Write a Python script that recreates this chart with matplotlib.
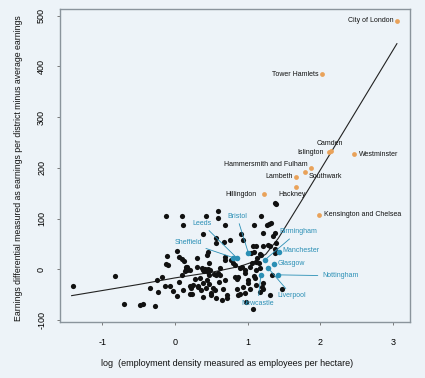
import matplotlib
matplotlib.use("Agg")
import matplotlib.pyplot as plt

plt.rcParams['font.family'] = ['Liberation Sans', 'DejaVu Sans']

# ---- data ----
other_x = [-1.40, -0.83, -0.70, -0.48, -0.44, -0.27, -0.35, -0.25, -0.18, -0.24, -0.14, -0.07, -0.03,
           -0.13, 0.03, -0.11, -0.12, -0.10, 0.06, 0.06, 0.10, 0.11, 0.10, 0.12, 0.15, 0.14, 0.16,
           0.22, 0.28, 0.31, 0.24, 0.30, 0.38, 0.43, 0.39, 0.44, 0.46, 0.47, 0.46, 0.50, 0.49, 0.44,
           0.47, 0.41, 0.21, 0.30, 0.37, 0.39, 0.40, 0.09, 0.25, 0.11, 0.03,
           0.59, 0.59, 0.69, 0.67, 0.75, 0.56, 0.69, 0.77, 0.62, 0.54, 0.62, 0.69, 0.39, 0.42, 0.52,
           0.55, 0.66, 0.57, 0.64, 0.71, 0.72, 0.80, 0.83, 0.83, 0.85, 0.90, 0.96, 1.03, 1.06, 1.11,
           1.15, 1.12, 1.17, 1.08, 0.89, 0.85, 0.94, 1.01, 1.17, 1.21, 1.12, 0.98, 1.07, 1.47, 1.31,
           1.37, 1.39, 1.18, 1.26, 1.29, 1.32, 1.09, 1.21, 1.37, 1.35, 0.91, 0.93, 1.07, 1.11, 1.21,
           1.28, 1.31, 1.39, 1.37, 1.05, 1.08, 1.17, 1.38, 1.13, 1.18, 1.34, 0.56, 0.15, 0.16, 0.20,
           0.46, 0.48, 0.69, 0.92, 0.96, 0.87, 1.01, 1.10, 1.21, 1.03, 0.87, 0.96, 1.19, 0.57, 0.59,
           0.34, 0.47, 0.60, 0.32, 0.36, 0.21]
other_y = [-32, -14, -68, -70, -68, -73, -36, -21, -16, -44, -33, -32, -42,
           106, 37, 26, 11, 8, 25, -25, 106, 87, 20, 17, 1, -3, 5,
           -36, -19, -33, -49, 5, 70, 106, -54, 28, 34, 12, 1, -46, -51, -21,
           -11, 0, -32, 22, 2, -1, -3, -11, -31, -41, -52,
           114, 101, 88, 54, 58, 51, 24, 18, 2, -9, -11, -21, -28, -36, -36,
           -41, -38, -57, -61, -51, -56, 12, 8, -15, -20, 2, -1, 5, 12, 15,
           12, -1, 2, -13, -49, -39, -34, -28, -44, -39, -31, -64, -79, -38, -51,
           131, 128, 106, 87, 89, 92, 87, 71, 71, 66, 69, 58, 46, 45, 45,
           47, 45, 51, 32, 32, 34, 30, 40, 22, 28, -11, 61, 5, -1, -1,
           -5, -1, 18, 5, -8, -15, -21, -18, -28, -38, -51, -47, -34, -11, -8,
           -17, -30, -25, -35, -41, -49]

london_names = ["City of London", "Tower Hamlets", "Camden", "Islington", "Westminster",
                "Hammersmith and Fulham", "Southwark", "Lambeth", "Hackney", "Hillingdon",
                "Kensington and Chelsea"]
london_x = [3.05, 2.02, 2.14, 2.12, 2.46, 1.865, 1.79, 1.67, 1.66, 1.22, 1.975]
london_y = [490, 385, 233, 231, 227, 200, 192, 183, 162, 148, 108]
# label anchors (data units) and alignment
london_lx = [3.00, 1.97, 2.135, 2.045, 2.53, 1.825, 1.84, 1.62, 1.61, 1.127, 2.05]
london_ly = [490, 385, 249, 230, 227, 207, 183, 183, 148, 148, 108]
london_ha = ['right', 'right', 'center', 'right', 'left', 'right', 'left', 'right', 'center', 'right', 'left']

city_names = ["Leeds", "Sheffield", "Bristol", "Birmingham", "Manchester", "Glasgow",
              "Nottingham", "Liverpool", "Newcastle"]
city_x = [0.855, 0.80, 1.01, 1.24, 1.425, 1.36, 1.415, 1.28, 1.18]
city_y = [21.7, 23, 31.5, 19, 33.5, 10.5, -11, 2.5, -11]
city_lx = [0.367, 0.18, 0.85, 1.69, 1.73, 1.60, 2.27, 1.61, 1.14]
city_ly = [90.7, 53, 105, 74, 38, 10.5, -13, -52.5, -67]

fit_x = [-1.42, -0.5, 0.0, 0.5, 0.9, 1.1, 1.25, 1.42, 1.79, 2.29, 3.05]
fit_y = [-52, -30, -17, -6, 6, 16, 30, 61, 147, 265, 445]

xticks = [-1, 0, 1, 2, 3]
yticks = [-100, 0, 100, 200, 300, 400, 500]

# ---- figure ----
bg = '#EDF3F8'
orange = '#E9A25A'
teal = '#2A8FB5'
W, H = 425, 378
fig = plt.figure(figsize=(W / 100, H / 100), dpi=100, facecolor=bg)
ax = fig.add_axes([60 / W, 1 - 321.7 / H, 350 / W, 313 / H], facecolor=bg)

ax.plot(fit_x, fit_y, color='#222222', lw=0.8, zorder=2)
ax.scatter(other_x, other_y, s=14, color='#111111', zorder=3, linewidths=0)
ax.scatter(london_x, london_y, s=12, color=orange, zorder=3, linewidths=0)
ax.scatter(city_x, city_y, s=16, color=teal, zorder=4, linewidths=0)

for n, lx, ly, ha in zip(london_names, london_lx, london_ly, london_ha):
    ax.text(lx, ly, n, fontsize=5, ha=ha, va='center', color='#111111', zorder=5)

for n, x, y, lx, ly in zip(city_names, city_x, city_y, city_lx, city_ly):
    ax.annotate(n, xy=(x, y), xytext=(lx, ly), fontsize=5, color=teal,
                ha='center', va='center', zorder=5,
                arrowprops=dict(arrowstyle='-', color=teal, lw=0.6,
                                shrinkA=1, shrinkB=1))

ax.set_xlim(-1.58, 3.23)
ax.set_ylim(-103.4, 514)
ax.set_xticks(xticks)
ax.set_yticks(yticks)
ax.set_xticklabels([str(t) for t in xticks], fontsize=6.5)
ax.set_yticklabels([str(t) for t in yticks], fontsize=6.5, rotation=90, va='center', ha='right')
ax.tick_params(axis='both', direction='out', length=2.5, width=0.6, color='#666666')
ax.tick_params(axis='x', pad=9)
ax.tick_params(axis='y', pad=7.5)
for s in ax.spines.values():
    s.set_color('#8A949C')
    s.set_linewidth(1.0)

fig.text(227 / W, 1 - 364 / H, "log  (employment density measured as employees per hectare)",
         fontsize=6.5, ha='center', va='center', color='#111111')
fig.text(19 / W, 1 - 168 / H,
         "Earnings differential measured as earnings per district minus average earnings",
         fontsize=6.3, ha='center', va='center', rotation=90, color='#111111')

fig.savefig("out.png", dpi=100, facecolor=bg)
